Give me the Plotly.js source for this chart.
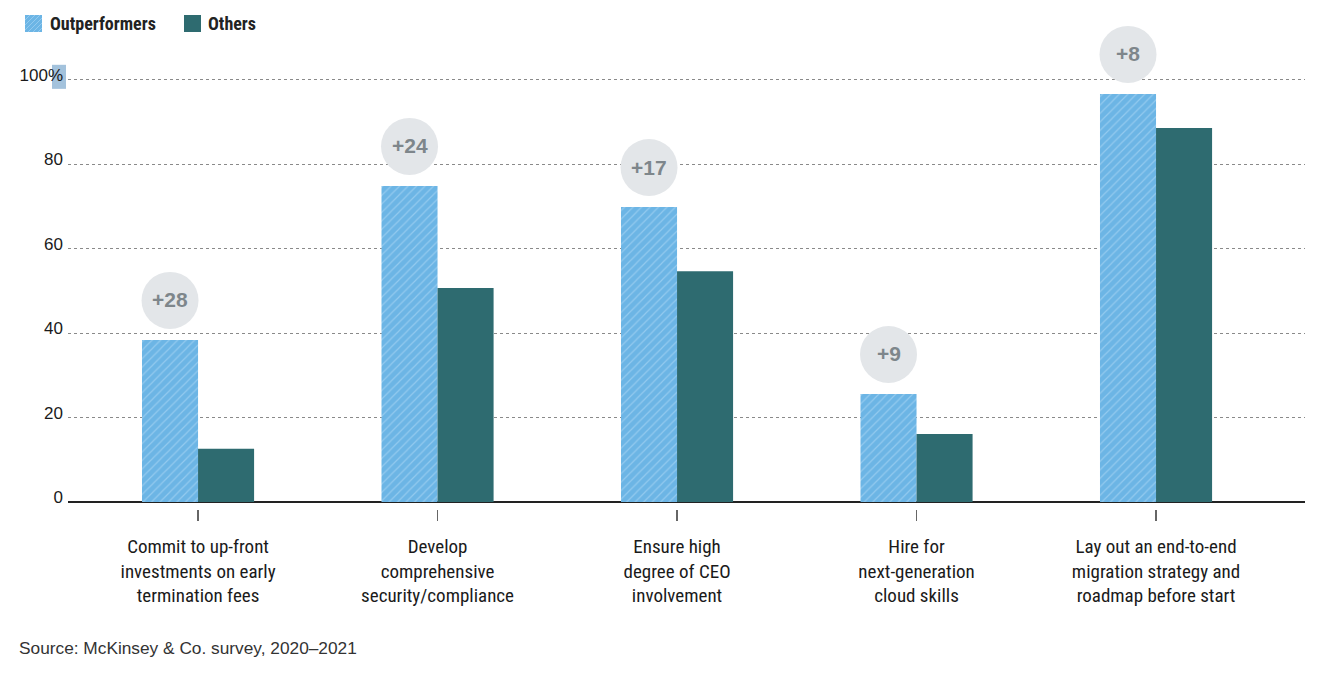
<!DOCTYPE html>
<html>
<head>
<meta charset="utf-8">
<script src="https://cdn.plot.ly/plotly-3.0.1.min.js"></script>
<style>html,body{margin:0;padding:0;background:#fff;}#chart{width:1338px;height:684px;}</style>
</head>
<body>
<div id="chart"></div>
<script>
const categories = [
  "Commit to up-front<br>investments on early<br>termination fees",
  "Develop<br>comprehensive<br>security/compliance",
  "Ensure high<br>degree of CEO<br>involvement",
  "Hire for<br>next-generation<br>cloud skills",
  "Lay out an end-to-end<br>migration strategy and<br>roadmap before start"
];
const outperformers = [38.4, 74.9, 69.9, 25.6, 96.7];
const others = [12.6, 50.7, 54.7, 16.1, 88.6];
const diffLabels = ["+28", "+24", "+17", "+9", "+8"];
const yTickVals = [0, 20, 40, 60, 80, 100];
const yTickText = ["0", "20", "40", "60", "80", "100%"];
const seriesNames = ["Outperformers", "Others"];
const seriesColors = ["#6cb5e5", "#2e6b70"];

const condensed = "'Liberation Sans Narrow', 'Roboto Condensed', Roboto, sans-serif";
const regular = "'Liberation Sans', Arial, sans-serif";

// plot geometry (pixels)
const L = 68, R = 33, T = 17, B = 175, W = 1338, H = 684;
const PW = W - L - R, PH = H - T - B;
const px = v => (v - L) / PW;          // pixel x -> paper x
const py = v => (H - B - v) / PH;      // pixel y -> paper y

const traces = [
  {
    type: "bar", name: seriesNames[0], x: categories, y: outperformers,
    marker: {color: seriesColors[0], line: {width: 0},
      pattern: {shape: "/", fgcolor: "#93caef", bgcolor: seriesColors[0], size: 6, solidity: 0.2}},
    hoverinfo: "skip", showlegend: false
  },
  {
    type: "bar", name: seriesNames[1], x: categories, y: others,
    marker: {color: seriesColors[1], line: {width: 0}},
    hoverinfo: "skip", showlegend: false
  }
];

const shapes = [];
const annotations = [];
const off = -0.117;
categories.forEach((c, i) => {
  shapes.push({
    type: "circle", layer: "above",
    xref: "x", yref: "y",
    xsizemode: "pixel", ysizemode: "pixel",
    xanchor: i + off, yanchor: outperformers[i],
    x0: -28.5, x1: 28.5, y0: 11, y1: 68,
    fillcolor: "#e3e6e9", line: {width: 0}
  });
  annotations.push({
    xref: "x", yref: "y", x: i + off, y: outperformers[i],
    yshift: 40, text: "<b>" + diffLabels[i] + "</b>", showarrow: false,
    font: {family: regular, size: 21, color: "#7e868b"}
  });
});

// highlight behind "%"
shapes.push({
  type: "rect", layer: "below", xref: "paper", yref: "y",
  x0: px(52), x1: px(66), y0: 97.9, y1: 103.6,
  fillcolor: "#a3c2dc", line: {width: 0}
});

// manual legend
const legendItems = [
  {x0: 25, textX: 48},
  {x0: 184, textX: 206}
];
legendItems.forEach((it, i) => {
  shapes.push({
    type: "rect", layer: "above", xref: "paper", yref: "paper",
    x0: px(it.x0), x1: px(it.x0 + 17), y0: py(32), y1: py(15),
    fillcolor: seriesColors[i], line: {width: 0}
  });
  if (i === 0) {
    let d = "";
    for (let k = -12; k <= 17; k += 5) {
      const xa = it.x0 + Math.max(k, 0), ya = 32 - Math.max(-k, 0);
      const xb = it.x0 + Math.min(k + 17, 17), yb = 32 - Math.min(17, 17 - k);
      d += `M${px(xa)},${py(ya)}L${px(xb)},${py(yb)}`;
    }
    shapes.push({
      type: "path", layer: "above", xref: "paper", yref: "paper",
      path: d, line: {color: "#93caef", width: 1}
    });
  }
  annotations.push({
    xref: "paper", yref: "paper", x: px(it.textX), y: py(23.5),
    xanchor: "left", yanchor: "middle", showarrow: false,
    text: "<b>" + seriesNames[i] + "</b>",
    font: {family: condensed, size: 18, color: "#222"}
  });
});

annotations.push({
  xref: "paper", yref: "paper", x: px(17), y: py(648), xanchor: "left", yanchor: "middle",
  text: "Source: McKinsey &amp; Co. survey, 2020–2021", showarrow: false,
  font: {family: regular, size: 17.3, color: "#333"}
});

const layout = {
  width: W, height: H,
  margin: {l: L, r: R, t: T, b: B, autoexpand: false},
  paper_bgcolor: "#fff", plot_bgcolor: "rgba(0,0,0,0)",
  barmode: "group", bargap: 0.532, bargroupgap: 0,
  showlegend: false,
  xaxis: {
    type: "category", range: [-0.543, 4.622],
    showgrid: false, showline: false, zeroline: false,
    ticks: "outside", ticklen: 11, tickwidth: 1.5, tickcolor: "#666",
    tickfont: {family: condensed, size: 19, color: "#1a1a1a"},
    ticklabelstandoff: 9, fixedrange: true
  },
  yaxis: {
    range: [-1.66, PH / 4.22 - 1.66],
    tickvals: yTickVals, ticktext: yTickText,
    showgrid: true, gridcolor: "#8a8a8a", gridwidth: 1, griddash: "3px,3px",
    zeroline: true, zerolinecolor: "#222", zerolinewidth: 1.5,
    showline: false, ticks: "",
    tickfont: {family: regular, size: 17, color: "#1a1a1a"},
    ticklabelstandoff: 4, ticklabelshift: -5, fixedrange: true
  },
  shapes: shapes,
  annotations: annotations
};

Plotly.newPlot("chart", traces, layout, {displayModeBar: false, staticPlot: true});
</script>
</body>
</html>
